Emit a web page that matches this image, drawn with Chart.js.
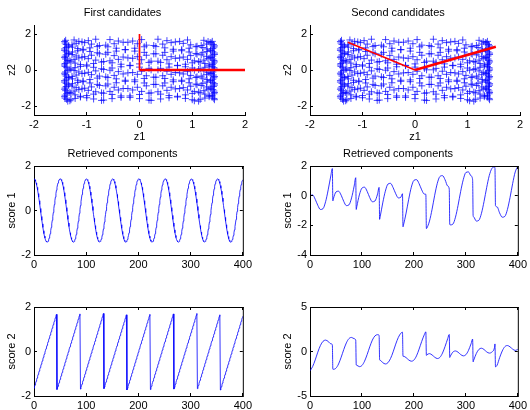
<!DOCTYPE html>
<html>
<head>
<meta charset="utf-8">
<title>Candidates and retrieved components</title>
<script src="https://cdn.jsdelivr.net/npm/chart.js@4.4.0/dist/chart.umd.min.js"></script>
<style>
  html, body { margin: 0; padding: 0; background: #fff; width: 530px; height: 410px; overflow: hidden; }
  body { position: relative; }
  canvas { position: absolute; }
</style>
</head>
<body>
<canvas id="firstCand"></canvas>
<canvas id="secondCand"></canvas>
<canvas id="firstScore1"></canvas>
<canvas id="secondScore1"></canvas>
<canvas id="firstScore2"></canvas>
<canvas id="secondScore2"></canvas>
<script>
// sampled signals, t = 0..400 (z1 = score 1, z2 = score 2 for the first candidates)
var z1 = [
  1.42,1.41,1.38,1.32,1.24,1.15,1.04,0.91,0.76,0.60,0.44,0.27,0.09,-0.09,-0.27,-0.44,-0.60,-0.76,-0.91,-1.04,-1.15,-1.24,-1.32,-1.38,-1.41,-1.42,-1.41,-1.38,-1.32,-1.24,-1.15,-1.04,-0.91,-0.76,-0.60,-0.44,-0.27,-0.09,0.09,0.27,0.44,0.60,0.76,0.91,1.04,1.15,1.24,1.32,1.38,1.41,
  1.42,1.41,1.39,1.34,1.27,1.17,1.07,0.94,0.80,0.64,0.48,0.31,0.13,-0.04,-0.22,-0.40,-0.56,-0.72,-0.87,-1.00,-1.12,-1.22,-1.30,-1.36,-1.40,-1.42,-1.41,-1.39,-1.34,-1.27,-1.17,-1.07,-0.94,-0.80,-0.64,-0.48,-0.31,-0.13,0.04,0.22,0.40,0.56,0.72,0.87,1.00,1.12,1.22,1.30,1.36,1.40,
  1.42,1.42,1.39,1.35,1.28,1.20,1.09,0.97,0.83,0.68,0.52,0.35,0.18,0.00,-0.18,-0.35,-0.52,-0.68,-0.83,-0.97,-1.09,-1.20,-1.28,-1.35,-1.39,-1.42,-1.42,-1.39,-1.35,-1.28,-1.20,-1.09,-0.97,-0.83,-0.68,-0.52,-0.35,-0.18,0.00,0.18,0.35,0.52,0.68,0.83,0.97,1.09,1.20,1.28,1.35,1.39,
  1.41,1.42,1.40,1.36,1.30,1.22,1.12,1.00,0.87,0.72,0.56,0.40,0.22,0.04,-0.13,-0.31,-0.48,-0.64,-0.80,-0.94,-1.07,-1.17,-1.27,-1.34,-1.39,-1.41,-1.42,-1.40,-1.36,-1.30,-1.22,-1.12,-1.00,-0.87,-0.72,-0.56,-0.40,-0.22,-0.04,0.13,0.31,0.48,0.64,0.80,0.94,1.07,1.17,1.27,1.34,1.39,
  1.41,1.42,1.41,1.38,1.32,1.24,1.15,1.04,0.91,0.76,0.60,0.44,0.27,0.09,-0.09,-0.27,-0.44,-0.60,-0.76,-0.91,-1.04,-1.15,-1.24,-1.32,-1.38,-1.41,-1.42,-1.41,-1.38,-1.32,-1.24,-1.15,-1.04,-0.91,-0.76,-0.60,-0.44,-0.27,-0.09,0.09,0.27,0.44,0.60,0.76,0.91,1.04,1.15,1.24,1.32,1.38,
  1.40,1.42,1.41,1.39,1.34,1.27,1.17,1.07,0.94,0.80,0.64,0.48,0.31,0.13,-0.04,-0.22,-0.40,-0.56,-0.72,-0.87,-1.00,-1.12,-1.22,-1.30,-1.36,-1.40,-1.42,-1.41,-1.39,-1.34,-1.27,-1.17,-1.07,-0.94,-0.80,-0.64,-0.48,-0.31,-0.13,0.04,0.22,0.40,0.56,0.72,0.87,1.00,1.12,1.22,1.30,1.36,
  1.39,1.42,1.42,1.39,1.35,1.28,1.20,1.09,0.97,0.83,0.68,0.52,0.35,0.18,0.00,-0.18,-0.35,-0.52,-0.68,-0.83,-0.97,-1.09,-1.20,-1.28,-1.35,-1.39,-1.42,-1.42,-1.39,-1.35,-1.28,-1.20,-1.09,-0.97,-0.83,-0.68,-0.52,-0.35,-0.18,0.00,0.18,0.35,0.52,0.68,0.83,0.97,1.09,1.20,1.28,1.35,
  1.39,1.41,1.42,1.40,1.36,1.30,1.22,1.12,1.00,0.87,0.72,0.56,0.40,0.22,0.04,-0.13,-0.31,-0.48,-0.64,-0.80,-0.94,-1.07,-1.17,-1.27,-1.34,-1.39,-1.41,-1.42,-1.40,-1.36,-1.30,-1.22,-1.12,-1.00,-0.87,-0.72,-0.56,-0.40,-0.22,-0.04,0.13,0.31,0.48,0.64,0.80,0.94,1.07,1.17,1.27,1.34,
  1.38
]
var z2 = [
  -1.65,-1.58,-1.50,-1.42,-1.34,-1.27,-1.19,-1.11,-1.03,-0.96,-0.88,-0.80,-0.72,-0.65,-0.57,-0.49,-0.42,-0.34,-0.26,-0.18,-0.11,-0.03,0.05,0.13,0.20,0.28,0.36,0.44,0.51,0.59,0.67,0.74,0.82,0.90,0.98,1.05,1.13,1.21,1.29,1.36,1.44,1.52,1.59,1.67,
  -1.71,-1.63,-1.56,-1.48,-1.40,-1.32,-1.25,-1.17,-1.09,-1.01,-0.94,-0.86,-0.78,-0.71,-0.63,-0.55,-0.47,-0.40,-0.32,-0.24,-0.16,-0.09,-0.01,0.07,0.15,0.22,0.30,0.38,0.45,0.53,0.61,0.69,0.76,0.84,0.92,1.00,1.07,1.15,1.23,1.30,1.38,1.46,1.54,1.61,1.69,
  -1.69,-1.61,-1.54,-1.46,-1.38,-1.30,-1.23,-1.15,-1.07,-1.00,-0.92,-0.84,-0.76,-0.69,-0.61,-0.53,-0.45,-0.38,-0.30,-0.22,-0.14,-0.07,0.01,0.09,0.16,0.24,0.32,0.40,0.47,0.55,0.63,0.71,0.78,0.86,0.94,1.01,1.09,1.17,1.25,1.32,1.40,1.48,1.56,1.63,1.71,
  -1.67,-1.59,-1.52,-1.44,-1.36,-1.29,-1.21,-1.13,-1.05,-0.98,-0.90,-0.82,-0.74,-0.67,-0.59,-0.51,-0.43,-0.36,-0.28,-0.20,-0.13,-0.05,0.03,0.11,0.18,0.26,0.34,0.42,0.49,0.57,0.65,0.72,0.80,0.88,0.96,1.03,1.11,1.19,1.27,1.34,1.42,1.50,1.58,1.65,
  -1.73,-1.65,-1.58,-1.50,-1.42,-1.34,-1.27,-1.19,-1.11,-1.03,-0.96,-0.88,-0.80,-0.72,-0.65,-0.57,-0.49,-0.42,-0.34,-0.26,-0.18,-0.11,-0.03,0.05,0.13,0.20,0.28,0.36,0.44,0.51,0.59,0.67,0.74,0.82,0.90,0.98,1.05,1.13,1.21,1.29,1.36,1.44,1.52,1.59,1.67,
  -1.71,-1.63,-1.56,-1.48,-1.40,-1.32,-1.25,-1.17,-1.09,-1.01,-0.94,-0.86,-0.78,-0.71,-0.63,-0.55,-0.47,-0.40,-0.32,-0.24,-0.16,-0.09,-0.01,0.07,0.15,0.22,0.30,0.38,0.45,0.53,0.61,0.69,0.76,0.84,0.92,1.00,1.07,1.15,1.23,1.30,1.38,1.46,1.54,1.61,1.69,
  -1.69,-1.61,-1.54,-1.46,-1.38,-1.30,-1.23,-1.15,-1.07,-1.00,-0.92,-0.84,-0.76,-0.69,-0.61,-0.53,-0.45,-0.38,-0.30,-0.22,-0.14,-0.07,0.01,0.09,0.16,0.24,0.32,0.40,0.47,0.55,0.63,0.71,0.78,0.86,0.94,1.01,1.09,1.17,1.25,1.32,1.40,1.48,1.56,1.63,1.71,
  -1.67,-1.59,-1.52,-1.44,-1.36,-1.29,-1.21,-1.13,-1.05,-0.98,-0.90,-0.82,-0.74,-0.67,-0.59,-0.51,-0.43,-0.36,-0.28,-0.20,-0.13,-0.05,0.03,0.11,0.18,0.26,0.34,0.42,0.49,0.57,0.65,0.72,0.80,0.88,0.96,1.03,1.11,1.19,1.27,1.34,1.42,1.50,1.58,1.65,
  -1.73,-1.65,-1.58,-1.50,-1.42,-1.34,-1.27,-1.19,-1.11,-1.03,-0.96,-0.88,-0.80,-0.72,-0.65,-0.57,-0.49,-0.42,-0.34,-0.26,-0.18,-0.11,-0.03,0.05,0.13,0.20,0.28,0.36,0.44,0.51,0.59,0.67,0.74,0.82,0.90,0.98,1.05,1.13,1.21,1.29,1.36,1.44,1.52,1.59
]

// candidate directions (end points from the origin): [thick, thin]
var cand1 = [[2, 0], [0, 2]]
var cand2 = [[1.54, 1.29], [-1.28, 1.54]]

// retrieved components for the second candidates
var rT = [0,5,10,15,20,25,30,35,40,43,44,45,50,55,60,65,70,75,80,85,88,89,90,95,100,105,110,115,120,125,130,133,134,135,140,145,150,155,160,165,170,175,178,179,180,185,190,195,200,205,210,215,220,223,224,225,230,235,240,245,250,255,260,265,268,269,270,275,280,285,290,295,300,305,310,313,314,315,320,325,330,335,340,345,350,355,356,357,360,365,370,375,380,385,390,395,400]
var r1 = [0.00,0.05,-0.24,-0.65,-0.93,-0.88,-0.41,0.39,1.33,1.83,-0.35,-0.21,0.25,0.30,0.03,-0.39,-0.67,-0.62,-0.15,0.65,1.21,-0.93,-0.75,0.05,0.51,0.57,0.29,-0.13,-0.41,-0.36,0.11,0.56,-1.60,-1.43,-0.49,0.30,0.78,0.83,0.54,0.13,-0.15,-0.10,0.13,-2.10,-1.97,-1.17,-0.24,0.57,1.03,1.08,0.81,0.39,0.11,0.09,-2.22,-2.18,-1.71,-0.91,0.03,0.83,1.29,1.35,1.07,0.65,0.45,-1.94,-1.97,-1.92,-1.45,-0.65,0.29,1.08,1.56,1.60,1.33,1.07,-1.35,-1.43,-1.71,-1.66,-1.19,-0.39,0.54,1.35,1.83,1.93,1.85,-0.68,-0.75,-1.17,-1.45,-1.40,-0.93,-0.13,0.81,1.60,1.98]
var r2 = [-2.17,-1.70,-0.95,-0.08,0.67,1.14,1.28,1.13,0.87,0.76,-1.99,-2.00,-1.87,-1.40,-0.64,0.22,0.97,1.45,1.58,1.44,1.27,-1.51,-1.55,-1.70,-1.57,-1.09,-0.34,0.52,1.28,1.75,1.89,1.82,-0.95,-0.99,-1.25,-1.40,-1.26,-0.79,-0.04,0.83,1.58,2.06,2.17,-0.54,-0.54,-0.69,-0.95,-1.09,-0.96,-0.49,0.27,1.13,1.89,2.21,-0.44,-0.37,-0.24,-0.39,-0.64,-0.79,-0.66,-0.18,0.57,1.44,1.91,-0.67,-0.54,-0.07,0.06,-0.08,-0.34,-0.49,-0.36,0.12,0.87,1.39,-1.16,-0.99,-0.24,0.23,0.37,0.22,-0.04,-0.18,-0.06,0.43,0.85,-1.72,-1.55,-0.69,0.06,0.54,0.67,0.52,0.27,0.12,0.25]

// tick values
var zTicksX = [-2, -1, 0, 1, 2]
var zTicksY = [-2, 0, 2]
var tTicks = [0, 100, 200, 300, 400]
var score1Ticks = [-2, 0, 2]
var score1bTicks = [-4, -2, 0, 2]
var score2Ticks = [-2, 0, 2]
var score2bTicks = [-5, 0, 5]

Chart.defaults.font.family = "'Liberation Sans', Arial, Helvetica, sans-serif"
Chart.defaults.font.size = 11
Chart.defaults.color = '#000'

var AXIS_W = 34, PAD_R = 10, HEAD = 25

// inward tick marks on the axes, plus top/right edges when the box is on
var frame = {
  id: 'frame',
  afterDraw: function (chart, args, opts) {
    var ctx = chart.ctx, a = chart.chartArea, sx = chart.scales.x, sy = chart.scales.y
    ctx.save()
    ctx.strokeStyle = '#000'
    ctx.lineWidth = 1
    ctx.beginPath()
    if (opts.box) {
      ctx.moveTo(a.left, a.top + 0.5); ctx.lineTo(a.right + 1, a.top + 0.5)
      ctx.moveTo(a.right + 0.5, a.top); ctx.lineTo(a.right + 0.5, a.bottom + 1)
    }
    sx.ticks.forEach(function (t) {
      var px = Math.floor(sx.getPixelForValue(t.value)) + 0.5
      ctx.moveTo(px, a.bottom); ctx.lineTo(px, a.bottom - 3)
      if (opts.box) { ctx.moveTo(px, a.top); ctx.lineTo(px, a.top + 3) }
    })
    sy.ticks.forEach(function (t) {
      var py = Math.floor(sy.getPixelForValue(t.value)) + 0.5
      ctx.moveTo(a.left, py); ctx.lineTo(a.left + 3, py)
      if (opts.box) { ctx.moveTo(a.right, py); ctx.lineTo(a.right - 3, py) }
    })
    ctx.stroke()
    ctx.restore()
  }
}

function axis(isX, min, max, ticks, title, size) {
  return {
    type: 'linear',
    position: isX ? 'bottom' : 'left',
    min: min,
    max: max,
    grid: { display: true, drawOnChartArea: false, drawTicks: false },
    border: { display: true, color: '#000', width: 1 },
    ticks: { autoSkip: false, maxRotation: 0, padding: 3, color: '#000' },
    title: {
      display: !!title,
      text: title || '',
      color: '#000',
      font: { size: 11 },
      padding: isX ? { top: 0, bottom: 1.5 } : { top: 5, bottom: 0 }
    },
    afterBuildTicks: function (s) { s.ticks = ticks.map(function (v) { return { value: v } }) },
    afterFit: function (s) { if (isX) s.height = size; else s.width = size }
  }
}

// box = [left, top, right, bottom] of the plot area on the page
function plot(id, box, o) {
  var cv = document.getElementById(id)
  var xH = o.xTitle ? 30 : 18
  cv.width = box[2] - box[0] + AXIS_W + PAD_R
  cv.height = HEAD + (box[3] - box[1]) + xH
  cv.style.left = (box[0] - AXIS_W) + 'px'
  cv.style.top = (box[1] - HEAD) + 'px'
  return new Chart(cv, {
    type: 'scatter',
    data: { datasets: o.datasets },
    options: {
      responsive: false,
      devicePixelRatio: 1,
      animation: false,
      events: [],
      layout: { padding: { left: 0, right: PAD_R, top: o.title ? 0 : HEAD, bottom: 0 } },
      plugins: {
        legend: { display: false },
        tooltip: { enabled: false },
        title: {
          display: !!o.title,
          text: o.title || '',
          color: '#000',
          font: { size: 11, weight: 'normal' },
          padding: { top: 6.5, bottom: 5.3 }
        },
        frame: { box: o.box }
      },
      scales: {
        x: axis(true, o.x[0], o.x[1], o.xTicks, o.xTitle, xH),
        y: axis(false, o.y[0], o.y[1], o.yTicks, o.yTitle, AXIS_W)
      }
    },
    plugins: [frame]
  })
}

function cloud() {
  return {
    data: z1.map(function (v, i) { return { x: v, y: z2[i] } }),
    pointStyle: 'cross',
    pointRadius: 3.5,
    pointBorderWidth: 1,
    borderColor: 'rgba(0,0,255,0.72)',
    backgroundColor: 'rgba(0,0,255,0.72)',
    order: 2
  }
}

function dir(end, width) {
  return {
    data: [{ x: 0, y: 0 }, { x: end[0], y: end[1] }],
    showLine: true,
    borderColor: '#ff0000',
    borderWidth: width,
    pointRadius: 0,
    order: 0
  }
}

function trace(xs, ys, smooth) {
  return {
    data: ys.map(function (v, i) { return { x: xs ? xs[i] : i, y: v } }),
    showLine: true,
    borderColor: 'rgba(0,0,255,0.8)',
    borderWidth: 1,
    pointRadius: 0,
    cubicInterpolationMode: smooth ? 'monotone' : 'default',
    tension: 0
  }
}

plot('firstCand', [34, 25, 245, 115], {
  title: 'First candidates', xTitle: 'z1', yTitle: 'z2', box: false,
  x: [-2, 2], y: [-2.5, 2.5], xTicks: zTicksX, yTicks: zTicksY,
  datasets: [dir(cand1[0], 2.5), dir(cand1[1], 1.7), cloud()]
})
plot('secondCand', [310, 25, 520, 115], {
  title: 'Second candidates', xTitle: 'z1', yTitle: 'z2', box: false,
  x: [-2, 2], y: [-2.5, 2.5], xTicks: zTicksX, yTicks: zTicksY,
  datasets: [dir(cand2[0], 2.5), dir(cand2[1], 1.5), cloud()]
})
plot('firstScore1', [34, 166, 245, 255], {
  title: 'Retrieved components', yTitle: 'score 1', box: true,
  x: [0, 400], y: [-2, 2], xTicks: tTicks, yTicks: score1Ticks,
  datasets: [trace(null, z1, false)]
})
plot('secondScore1', [310, 166, 520, 255], {
  title: 'Retrieved components', yTitle: 'score 1', box: true,
  x: [0, 400], y: [-4, 2], xTicks: tTicks, yTicks: score1bTicks,
  datasets: [trace(rT, r1, true)]
})
plot('firstScore2', [34, 307, 245, 396], {
  yTitle: 'score 2', box: true,
  x: [0, 400], y: [-2, 2], xTicks: tTicks, yTicks: score2Ticks,
  datasets: [trace(null, z2, false)]
})
plot('secondScore2', [310, 307, 520, 396], {
  yTitle: 'score 2', box: true,
  x: [0, 400], y: [-5, 5], xTicks: tTicks, yTicks: score2bTicks,
  datasets: [trace(rT, r2, true)]
})
</script>
</body>
</html>
